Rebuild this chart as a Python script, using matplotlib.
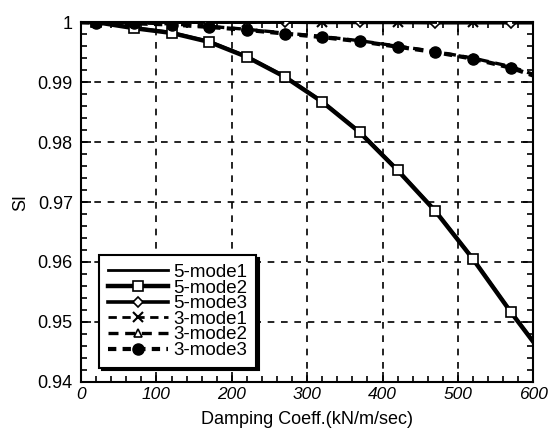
"""
SI versus damping coefficient for 5-mode and 3-mode models.

Saves: out.png
"""

import matplotlib
matplotlib.use("Agg")
import matplotlib.pyplot as plt
from matplotlib.ticker import MultipleLocator

plt.rcParams["font.family"] = ["Liberation Sans", "DejaVu Sans"]

# ---------------------------------------------------------------------------
# Data
# ---------------------------------------------------------------------------
damping = [0, 20, 70, 120, 170, 220, 270, 320, 370, 420, 470, 520, 570, 600]

si_5mode1 = [1.0, 1.0, 0.9991, 0.9983, 0.9968, 0.9943, 0.9910, 0.9868,
             0.9817, 0.9754, 0.9686, 0.9606, 0.9518, 0.9468]
si_5mode2 = [1.0, 1.0, 0.9990, 0.9982, 0.9967, 0.9942, 0.9909, 0.9867,
             0.9816, 0.9753, 0.9685, 0.9605, 0.9517, 0.9467]
si_5mode3 = [1.0, 1.0, 1.0, 1.0, 1.0, 1.0, 1.0, 0.99995, 0.99995,
             0.99995, 0.9999, 0.9999, 0.9999, 0.9999]
si_3mode1 = [1.0, 1.0, 1.0, 1.0, 1.0, 1.0, 1.0, 1.0, 1.0,
             1.0, 1.0, 1.0, 1.0, 1.0]
si_3mode2 = [1.0, 1.0, 0.9999, 0.9997, 0.9993, 0.9988, 0.9982, 0.9976,
             0.9969, 0.9960, 0.9951, 0.9940, 0.9926, 0.9913]
si_3mode3 = [1.0, 0.9999, 0.9998, 0.9996, 0.9992, 0.9987, 0.9981, 0.9975,
             0.9968, 0.9959, 0.9950, 0.9939, 0.9924, 0.9911]

X_TICKS = [0, 100, 200, 300, 400, 500, 600]
Y_TICKS = [0.94, 0.95, 0.96, 0.97, 0.98, 0.99, 1.0]
Y_TICK_LABELS = ["0.94", "0.95", "0.96", "0.97", "0.98", "0.99", "1"]


def main():
    fig = plt.figure(figsize=(5.48, 4.34), dpi=100)
    ax = fig.add_axes([0.148, 0.12, 0.825, 0.829])

    inner = slice(1, 13)

    ax.plot(damping, si_5mode1, color="black", lw=2.0, ls="-",
            label="5-mode1", zorder=3)
    ax.plot(damping, si_5mode2, color="black", lw=3.2, ls="-",
            marker="s", ms=7, mfc="white", mec="black", mew=1.2,
            markevery=inner, label="5-mode2", zorder=4)
    ax.plot(damping, si_5mode3, color="black", lw=2.6, ls="-",
            marker="D", ms=5, mfc="white", mec="black", mew=1.2,
            markevery=[2, 4, 6, 8, 10, 12], label="5-mode3", zorder=4)
    ax.plot(damping, si_3mode1, color="black", lw=2.0, ls=(0, (3, 2)),
            marker="x", ms=7, mec="black", mew=1.5,
            markevery=[1, 3, 5, 7, 9, 11], label="3-mode1", zorder=4)
    ax.plot(damping, si_3mode2, color="black", lw=2.4, ls=(0, (3, 2)),
            marker="^", ms=6, mfc="white", mec="black", mew=1.2,
            markevery=inner, label="3-mode2", zorder=4)
    ax.plot(damping, si_3mode3, color="black", lw=3.0, ls=(0, (2, 1.5)),
            marker="o", ms=8, mfc="black", mec="black",
            markevery=inner, label="3-mode3", zorder=5)

    ax.set_xlim(0, 600)
    ax.set_ylim(0.94, 1.0)
    ax.set_xticks(X_TICKS)
    ax.set_yticks(Y_TICKS)
    ax.set_yticklabels(Y_TICK_LABELS)
    ax.xaxis.set_minor_locator(MultipleLocator(20))
    ax.yaxis.set_minor_locator(MultipleLocator(0.002))

    ax.tick_params(which="both", direction="in", top=True, right=True,
                   color="black", width=1.2)
    ax.tick_params(which="major", length=7)
    ax.tick_params(which="minor", length=4)
    ax.tick_params(axis="y", labelsize=13, pad=6)
    ax.tick_params(axis="x", labelsize=12.5, pad=4)
    for lab in ax.get_xticklabels():
        lab.set_fontstyle("italic")

    for sp in ax.spines.values():
        sp.set_linewidth(1.5)
        sp.set_color("black")

    ax.grid(True, which="major", color="black", lw=1.2, ls=(0, (4, 4)))

    ax.set_xlabel("Damping Coeff.(kN/m/sec)", fontsize=13, labelpad=6)
    ax.set_ylabel("SI", fontsize=13, labelpad=6)

    leg = ax.legend(loc="lower left", bbox_to_anchor=(0.04, 0.04),
                    borderaxespad=0, fontsize=13.5, labelspacing=-0.08,
                    handlelength=3.2, handletextpad=0.3, borderpad=0.45,
                    fancybox=False, framealpha=1, edgecolor="black",
                    shadow={"color": "black", "alpha": 1})
    leg.get_frame().set_linewidth(1.5)

    fig.savefig("out.png", dpi=100)


if __name__ == "__main__":
    main()
